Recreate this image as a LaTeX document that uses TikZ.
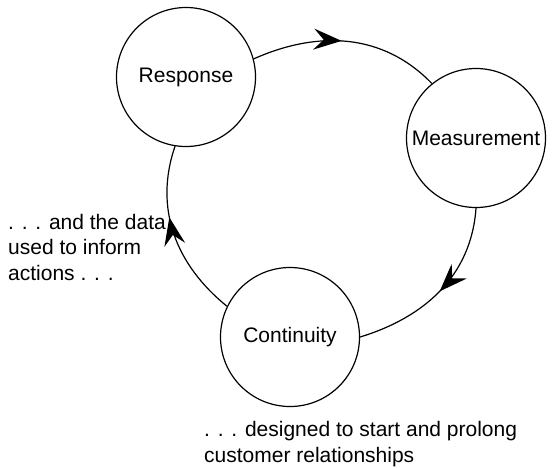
\documentclass[tikz,border=0pt]{standalone}
\usepackage{fontspec}
\setmainfont{Liberation Sans}
\usetikzlibrary{arrows.meta,decorations.markings}

\begin{document}
\begin{tikzpicture}[x=1pt,y=1pt]
  % Styles for the three stages, the arcs and the notes
  \tikzset{
    stage/.style={circle, draw=black, line width=1.2pt, inner sep=0pt, minimum size=139pt, font=\fontsize{21}{25}\selectfont},
    cycarc/.style={line width=1.2pt, postaction={decorate},
      decoration={markings, mark=at position #1 with {\arrow{Stealth[length=28pt, width=21pt, inset=10pt]}}}},
    lbl/.style={align=left, inner sep=0pt, font=\fontsize{21}{25.5}\selectfont}
  }
  \useasboundingbox (0,0) rectangle (553,-467);

  % The three stages
  \node[stage] (resp) at (186,-77) {Response};
  \node[stage] (meas) at (476,-138) {Measurement};
  \node[stage] (cont) at (290,-337) {Continuity};

  % Arcs round the cycle
  \draw[cycarc=0.47] (resp.15) to[out=24, in=134] (meas.129);
  \draw[cycarc=0.5] (meas.-90) to[out=-94, in=17] (cont.0);
  \draw[cycarc=0.6] (cont.154) to[out=141, in=-109] (resp.-99);

  % Side notes
  \node[lbl, anchor=west] (note) at (8,-247) {. . . and the data\\used to inform\\actions . . .};
  \node[lbl, anchor=west] (foot) at (204,-444) {. . . designed to start and prolong\\customer relationships};
\end{tikzpicture}
\end{document}
